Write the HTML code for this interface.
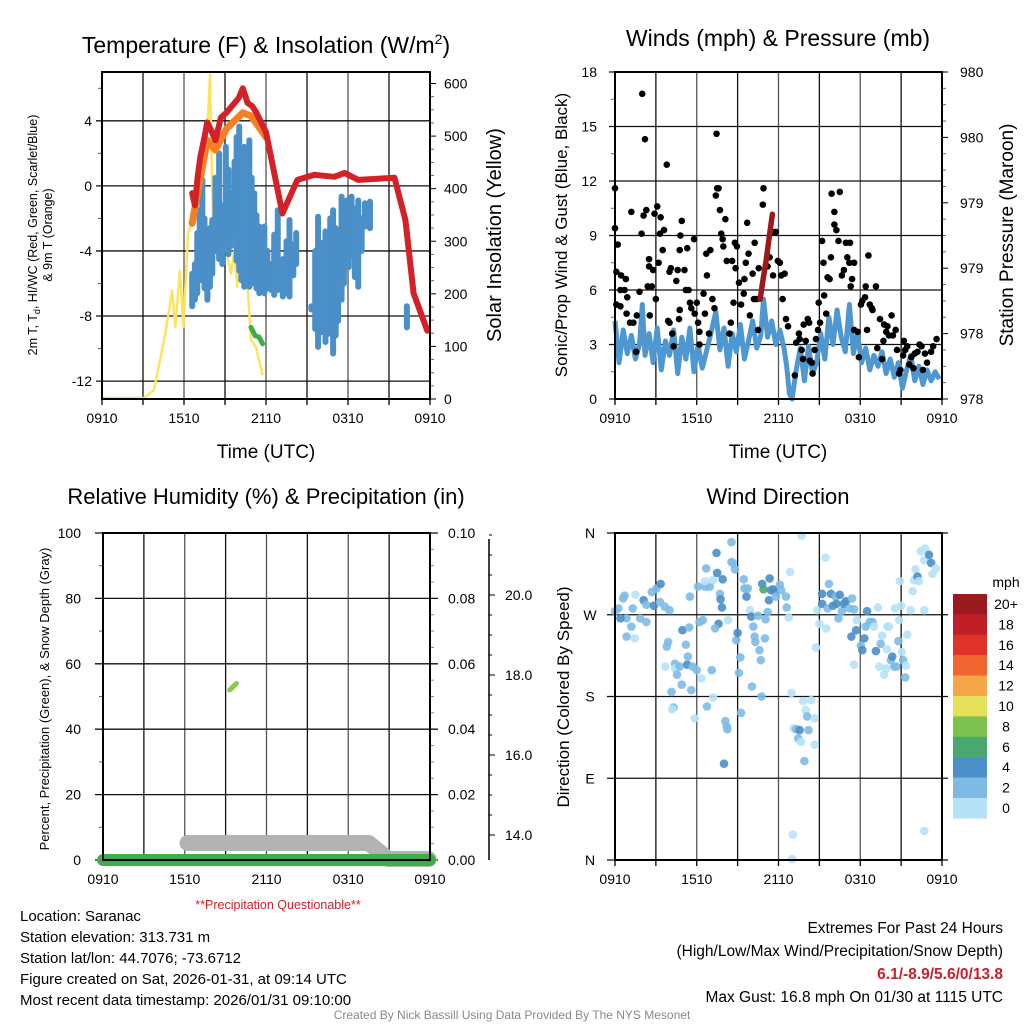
<!DOCTYPE html>
<html><head><meta charset="utf-8"><style>
html,body{margin:0;padding:0;background:#fff;}
svg{display:block;font-family:"Liberation Sans",Arial,sans-serif;}
</style></head><body>
<svg id="s" width="1024" height="1024" viewBox="0 0 1024 1024" xmlns="http://www.w3.org/2000/svg">
<rect width="1024" height="1024" fill="#fff"/>
<g id="g"></g>
</svg>
<script>
// ---------- DATA (hours since 0910 UTC) ----------
const timeTicks = ["0910","1510","2110","0310","0910"];
// Temperature panel
const tempT = [6.6,6.8,7.0,7.2,7.5,7.7,8.0,8.3,8.7,9.1,9.4,9.7,10.0,10.3,10.65,11.0,11.3,12.0,13.2,14.3,15.55,17.0,17.75,18.75,21.4,22.2,22.8,23.8];
const tempV = [-0.45,-1.2,0.57,1.8,3.0,3.9,3.4,2.8,4.2,4.5,4.8,5.1,5.4,6.0,5.1,4.9,4.5,3.3,-1.7,0.37,0.68,0.56,0.8,0.37,0.5,-2.1,-6.6,-8.9];
const t9T = [6.6,7.2,7.7,8.3,9.1,9.7,10.3,10.9,11.5,12.0];
const t9V = [-2.3,0.5,2.8,2.2,3.5,4.0,4.5,4.3,3.6,3.0];
const tdT = [6.6,6.8,6.97,7.15,7.34,7.5,7.71,7.9,8.07,8.3,8.57,8.8,9.06,9.25,9.43,9.7,9.85,10.04,10.2,10.41,10.6,10.78,10.95,11.14,11.3,11.51,11.7,11.88,12.1,12.37,12.6,12.86,13.23,13.5,13.72,14.0,14.21,15.32,15.6,15.81,16.0,16.18,16.35,16.54,16.7,16.91,17.1,17.28,17.53,17.7,17.89,18.05,18.26,18.5,18.75,19.0,19.24,19.61,22.31];
const tdHigh = [-5.4,-4.8,-2.9,-1.5,0.37,-2.0,-3.3,-2.6,-2.1,0.5,2.0,-1.2,2.4,1.0,-0.45,1.5,3.0,3.65,2.0,2.4,1.8,2.8,0.5,-0.45,-1.8,-2.5,-3.5,-2.5,-4.0,-4.8,-3.0,-1.5,-4.5,-3.4,-2.1,-3.6,-2.9,-7.4,-4.0,-1.9,-3.5,-3.9,-2.8,-3.7,-2.0,-1.5,-2.6,-3.1,-0.66,-1.8,-0.9,-2.2,-0.66,-1.4,-0.9,-2.0,-1.07,-0.97,-7.4];
const tdLow = [-7.4,-7.0,-6.6,-5.8,-4.5,-6.3,-7.0,-6.2,-5.4,-4.0,-4.5,-4.8,-3.5,-4.2,-3.7,-3.0,-4.6,-5.2,-5.8,-6.2,-5.9,-6.2,-6.0,-5.8,-6.3,-6.6,-6.5,-6.6,-6.3,-6.4,-6.7,-6.4,-6.8,-6.6,-6.8,-5.5,-4.8,-7.6,-8.8,-9.9,-9.0,-8.7,-9.6,-9.1,-8.5,-10.3,-9.2,-8.3,-7.0,-6.0,-3.7,-5.0,-4.3,-5.6,-6.2,-4.0,-2.5,-2.6,-8.7];
const hiT = [10.9,11.2,11.5,11.75];
const hiV = [-8.7,-9.2,-9.3,-9.7];
const solT = [0,3.05,3.8,4.15,4.64,5.13,5.37,5.7,5.95,6.29,6.6,7.1,7.46,7.71,7.9,8.07,8.2,8.44,8.61,9.06,9.43,9.67,9.9,10.29,10.53,10.9,11.26,11.75];
const solV = [2,2,17,61,125,206,137,244,137,314,339,402,453,516,617,390,282,339,263,288,238,282,213,409,263,112,99,45];
// Wind panel
const windT = [0,0.3,0.6,0.9,1.2,1.5,1.8,2.0,2.2,2.5,2.8,3.1,3.4,3.7,4.0,4.3,4.6,4.9,5.2,5.5,5.8,6.1,6.4,6.7,7.0,7.4,7.7,8.0,8.3,8.6,8.9,9.2,9.5,9.8,10.1,10.4,10.7,10.9,11.2,11.5,11.8,12.1,12.4,12.6,12.8,13.0,13.3,13.6,13.9,14.2,14.5,14.8,15.1,15.4,15.7,16.0,16.3,16.6,16.9,17.2,17.5,17.8,18.1,18.4,18.7,19.0,19.3,19.6,19.9,20.2,20.5,20.8,21.1,21.4,21.7,22.0,22.3,22.6,22.9,23.2,23.5,23.8];
const windV = [4.3,2.0,3.8,2.5,3.5,2.2,3.0,5.2,2.4,3.6,2.0,3.9,1.6,3.2,2.4,3.8,1.4,3.4,2.2,3.9,1.5,3.0,1.7,2.6,3.5,4.8,2.7,3.9,1.8,3.6,2.6,4.1,2.2,3.2,4.3,2.8,3.5,5.5,3.4,4.3,3.0,3.8,2.8,1.8,0.3,0.0,1.6,2.8,1.0,2.9,1.4,2.0,3.6,2.2,4.5,3.0,4.9,3.4,2.6,5.2,2.5,3.6,2.0,2.8,1.6,2.4,1.8,2.6,1.4,2.2,1.2,2.0,0.6,1.6,2.4,1.0,1.8,0.8,1.6,1.0,1.5,1.1];
const gustT = [0,0.0,0.2,0.1,0.45,0.8,0.4,0.7,0.1,0.4,0.9,0.85,1.1,1.35,1.2,1.55,1.6,1.8,1.95,2.1,2.3,2.0,2.2,2.5,2.5,2.4,2.7,2.55,2.8,2.9,3.0,3.1,3.2,3.35,3.3,3.5,3.6,3.8,3.9,4.0,4.0,4.1,4.2,4.3,4.5,4.6,4.7,4.75,4.9,4.8,4.75,5.1,5.3,5.2,5.4,5.5,5.6,5.8,5.85,6.0,6.1,6.2,6.2,6.5,6.6,6.7,6.75,6.9,7.0,7.15,7.3,7.4,7.5,7.45,7.6,7.7,7.8,7.9,7.95,8.1,8.2,8.4,8.5,8.6,8.7,8.8,8.85,8.95,9.1,9.25,9.45,9.5,9.6,9.7,9.8,9.9,10.1,10.2,10.25,10.4,10.5,10.55,10.85,10.9,11.2,11.35,11.55,11.6,11.8,11.95,12.1,12.2,12.3,12.45,12.55,12.7,13.2,13.3,13.5,13.55,13.7,13.8,13.85,14.0,14.15,14.25,14.3,14.45,14.5,14.65,14.75,14.9,14.95,15.05,15.2,15.3,15.35,15.5,15.6,15.75,15.85,15.9,16.1,16.1,16.25,16.4,16.5,16.65,16.8,16.95,17.05,17.2,17.25,17.3,17.4,17.55,17.55,17.8,17.9,18.05,18.15,18.35,18.4,18.5,18.6,18.7,18.85,18.9,19.15,19.25,19.45,19.6,19.7,19.75,19.9,20.0,20.1,20.3,20.4,20.6,20.7,20.85,20.95,21.15,21.2,21.3,21.45,21.6,21.75,21.9,22.0,22.2,22.35,22.5,22.6,22.75,22.9,23.2,23.35,23.6];
const gustV = [11.6,9.4,8.5,7.0,6.8,6.6,6.0,6.0,5.2,5.1,5.6,4.7,4.2,4.2,10.3,2.6,4.6,5.9,9.1,10.1,10.4,16.8,14.3,7.7,7.3,6.2,6.2,4.6,7.1,10.2,5.5,10.6,7.5,10.0,9.1,8.2,9.3,12.9,4.3,4.2,7.0,7.2,3.6,2.9,6.5,7.1,4.4,4.9,9.8,9.0,8.2,7.1,8.3,6.0,6.0,5.3,5.0,8.8,4.7,5.3,4.2,3.0,3.7,5.8,4.7,8.0,6.8,3.6,8.2,5.5,5.0,11.2,11.6,14.6,11.6,10.4,9.1,8.8,8.4,9.9,7.6,3.6,4.2,7.6,5.3,8.6,7.2,8.4,6.4,5.2,5.8,6.6,7.5,9.7,8.0,4.6,6.9,5.5,8.6,5.5,3.8,7.2,10.7,11.6,7.3,7.8,9.2,6.8,9.2,7.6,7.5,6.8,5.5,6.9,4.4,4.0,1.3,3.1,3.6,3.3,2.7,2.2,4.1,3.2,4.4,4.2,2.1,2.0,1.4,2.7,3.3,3.8,5.3,4.2,8.7,7.5,5.7,4.7,6.7,6.6,7.8,11.3,10.3,9.6,9.3,8.7,11.4,6.8,7.1,8.6,7.8,7.5,8.6,6.2,6.6,7.5,3.8,3.7,2.3,5.2,5.4,5.6,6.2,3.8,7.9,5.2,5.0,4.9,6.2,2.8,4.4,2.2,3.2,4.1,3.7,4.0,3.5,4.6,3.5,3.8,2.7,1.4,1.6,2.4,3.2,2.7,2.9,1.9,2.3,1.7,2.5,2.6,3.0,2.9,1.6,2.5,2.0,2.6,2.9,3.3];
const presT = [10.65,10.85,11.1,11.3,11.55];
const presV = [978.61,978.72,978.85,978.98,979.13];
const presTicks = ["978","978","979","979","980","980"];
// RH / precip / snow panel
const precipT = [0,24];
const precipV = [0,0];
const rhT = [9.3,9.55,9.8];
const rhV = [52,53,54];
const snowT = [6.2,19.5,20.95,23.9];
const snowV = [13.8,13.8,13.4,13.4];
// Direction panel
const dirT = [0,0.25,0.6,0.7,1.5,0.85,1.2,0.85,1.45,0.4,1.3,1.85,2.1,2.3,2.3,2.7,2.85,3.05,3.35,3.3,3.65,4.0,3.8,3.9,3.7,4.4,4.4,4.55,4.75,4.9,4.95,5.2,5.3,5.35,5.45,5.5,5.6,5.7,5.85,6.0,6.1,6.2,6.35,6.45,4.15,4.3,4.2,6.6,6.7,6.95,6.6,7.2,7.1,6.75,7.2,7.45,7.5,7.7,7.75,7.85,7.6,7.35,7.9,8.1,8.2,8.25,8.0,8.3,8.55,8.55,8.65,8.8,8.9,9.0,9.2,9.1,9.25,9.45,9.65,9.5,9.75,9.9,10.0,10.15,10.25,10.3,10.5,10.6,10.7,11.0,11.05,10.8,10.9,11.35,11.3,11.45,11.6,11.7,11.8,12.1,12.2,11.2,10.05,10.75,12.55,12.6,12.75,12.85,12.95,13.1,13.3,13.55,13.45,13.65,13.8,14.0,14.1,14.2,14.4,14.65,14.65,13.9,13.7,13.05,13.0,14.75,14.85,15.0,15.2,15.2,15.45,15.5,15.6,15.7,15.85,16.0,16.2,16.25,16.4,16.5,16.65,16.8,16.95,17.2,17.4,17.55,17.75,17.7,17.35,17.55,18.05,18.15,18.3,18.4,18.5,18.7,18.9,19.0,19.15,19.3,19.4,19.5,19.6,19.75,19.9,19.95,20.0,20.1,20.25,20.35,20.5,20.65,20.8,20.85,20.55,21.0,21.05,21.15,21.3,21.35,21.45,21.7,21.85,21.95,22.05,22.2,22.3,22.45,22.7,22.75,23.05,23.2,23.55,23.3,22.7,20.9,22.7];
const dirV = [274,277,288,291,292,266,257,246,244,266,277,266,286,262,281,295,280,299,304,284,279,275,235,240,213,216,211,204,213,193,253,237,215,224,256,290,187,213,156,209,301,262,200,264,185,168,166,301,321,301,307,308,209,169,179,338,316,293,287,278,260,255,309,153,147,144,106,264,350,328,327,320,242,250,223,206,162,309,290,299,299,275,268,257,246,240,269,231,220,244,265,304,298,310,286,297,298,296,290,303,297,273,191,180,290,278,267,317,184,145,144,143,134,130,175,165,158,143,176,156,127,109,357,28,1,234,275,260,293,282,333,255,277,304,293,280,290,282,266,292,274,282,285,277,288,276,264,253,246,215,236,231,244,257,274,262,262,257,230,278,213,238,247,204,211,232,257,257,220,224,213,213,241,264,277,280,229,220,201,214,248,275,296,308,320,312,307,340,330,343,336,327,321,315,32,307,275];
const dirS = [3,3,3,3,1,3,3,3,1,5,3,3,5,3,3,3,5,3,5,3,3,3,3,3,1,3,1,3,3,3,5,3,5,3,3,3,3,3,1,3,3,3,1,3,3,3,1,3,3,3,1,1,3,3,1,5,5,3,5,5,5,3,5,3,3,3,5,1,3,3,3,3,3,5,3,3,3,3,5,3,3,1,5,3,3,3,3,3,3,3,3,5,7,5,5,5,5,5,3,3,3,3,3,3,3,3,1,1,1,1,3,5,3,1,1,1,3,3,1,1,1,3,1,1,1,1,1,1,5,5,1,1,3,3,5,5,3,5,3,5,3,5,5,3,3,3,1,5,5,1,3,5,5,3,5,3,3,1,5,1,1,3,1,1,1,1,1,1,3,5,3,3,3,1,1,1,1,3,3,1,1,1,1,1,1,5,1,1,1,1,5,5,1,1,1,1,1,1];
const cbLabels = ["20+","18","16","14","12","10","8","6","4","2","0"];
const cbColors = ["#9a1a1d","#c11f26","#df3229","#f06530","#f7a647","#e6e15a","#7dc24e","#49a770","#4a8fc8","#7dbbe5","#b6e2f7"];

// ---------- helpers ----------
const NS="http://www.w3.org/2000/svg";
const G=document.getElementById('g');
function mk(tag,attrs,parent){const e=document.createElementNS(NS,tag);for(const k in attrs)e.setAttribute(k,attrs[k]);(parent||G).appendChild(e);return e;}
function txt(x,y,s,size,anchor,parent,extra){const e=mk('text',Object.assign({x:x,y:y,'font-size':size,'text-anchor':anchor||'middle',fill:'#000'},extra||{}),parent);e.textContent=s;return e;}
function lin(d0,d1,r0,r1){return v=>r0+(v-d0)/(d1-d0)*(r1-r0);}
function pathOf(xs,ys,fx,fy){return xs.map((t,i)=>(i?'L':'M')+fx(t).toFixed(1)+','+fy(ys[i]).toFixed(1)).join('');}

function frame(P,name){
  const g=mk('g',{});
  
  
  const fx=lin(0,24,P.x0,P.x1);
  for(let h=0;h<=24;h+=3){const x=fx(h);
    mk('line',{x1:x,y1:P.y0,x2:x,y2:P.y1,stroke:(h%6==0)?'#555':'#111','stroke-width':1.3},g);
    mk('line',{x1:x,y1:P.y1,x2:x,y2:P.y1+6,stroke:'#000','stroke-width':1.3},g);}
  timeTicks.forEach((s,i)=>{const t=txt(fx(i*6),P.y1+24,s,14,'middle',g);
    });
  return {g,fx};
}

// ===== Panel 1: Temperature =====
(function(){
  const P={x0:102,x1:430,y0:72,y1:399};
  const {g,fx}=frame(P,'temperature-panel');
  const fy=lin(-13.1,7.0,P.y1,P.y0);
  const fs=lin(0,620,P.y1,P.y0+1);
  [-12,-8,-4,0,4].forEach(v=>{const y=fy(v);
    mk('line',{x1:P.x0-6,y1:y,x2:P.x1,y2:y,stroke:'#111','stroke-width':1.3},g);
    const t=txt(P.x0-10,y+5,String(v),14,'end',g);});
  [-10,-6,-2,2,6].forEach(v=>mk('line',{x1:P.x0-4,y1:fy(v),x2:P.x0,y2:fy(v),stroke:'#555'},g));
  for(let w=0;w<=600;w+=25){const y=fs(w);mk('line',{x1:P.x1,y1:y,x2:P.x1+(w%100==0?6:4),y2:y,stroke:w%100==0?'#000':'#666'},g);
    if(w%100==0){const t=txt(P.x1+14,y+5,String(w),14,'start',g);}}
  let e=mk('path',{d:pathOf(solT,solV,fx,fs),fill:'none',stroke:'#fde35a','stroke-width':2.4,'stroke-linejoin':'round'},g);
  
  const bg=mk('g',{},g);
  tdT.forEach((t,i)=>{const b=mk('line',{x1:fx(t),x2:fx(t),y1:fy(tdHigh[i]),y2:fy(tdLow[i]),stroke:'#4a8fc8','stroke-width':6,'stroke-linecap':'round'},bg);
    });
  e=mk('path',{d:pathOf(t9T,t9V,fx,fy),fill:'none',stroke:'#f47f24','stroke-width':7,'stroke-linejoin':'round','stroke-linecap':'round'},g);
  
  e=mk('path',{d:pathOf(tempT,tempV,fx,fy),fill:'none',stroke:'#d42027','stroke-width':6,'stroke-linejoin':'round','stroke-linecap':'round'},g);
  
  e=mk('path',{d:pathOf(hiT,hiV,fx,fy),fill:'none',stroke:'#3fae49','stroke-width':5,'stroke-linecap':'round'},g);
  
  mk('rect',{x:P.x0,y:P.y0,width:P.x1-P.x0,height:P.y1-P.y0,fill:'none',stroke:'#000','stroke-width':2},g);
  let t=mk('text',{x:266,y:53,'font-size':23,'text-anchor':'middle'},g);
  t.innerHTML='Temperature (F) &amp; Insolation (W/m<tspan dy="-9" font-size="14">2</tspan><tspan dy="9">)</tspan>';
  
  t=txt(266,458,'Time (UTC)',19,'middle',g);
  t=mk('text',{x:0,y:0,'font-size':12.5,'text-anchor':'middle',transform:'translate(37,235) rotate(-90)'},g);
  t.innerHTML='2m T, T<tspan dy="3" font-size="9">d</tspan><tspan dy="-3">, HI/WC (Red, Green, Scarlet/Blue)</tspan>';
  
  t=mk('text',{x:0,y:0,'font-size':12.5,'text-anchor':'middle',transform:'translate(52,235) rotate(-90)'},g);t.textContent='& 9m T (Orange)';
  
  t=mk('text',{x:0,y:0,'font-size':20,'text-anchor':'middle',transform:'translate(501,235) rotate(-90)'},g);t.textContent='Solar Insolation (Yellow)';
  
})();

// ===== Panel 2: Winds =====
(function(){
  const P={x0:615,x1:942,y0:72,y1:399};
  const {g,fx}=frame(P,'winds-panel');
  const fy=lin(0,18,P.y1,P.y0);
  const fp=lin(978,980,P.y1,P.y0);
  for(let v=0;v<=18;v+=3){const y=fy(v);
    mk('line',{x1:P.x0-6,y1:y,x2:P.x1,y2:y,stroke:'#111','stroke-width':1.3},g);
    if(v<18)mk('line',{x1:P.x0-4,y1:fy(v+1.5),x2:P.x0,y2:fy(v+1.5),stroke:'#666'},g);
    const t=txt(P.x0-18,y+5,String(v),14,'end',g);}
  for(let i=0;i<=20;i++){const y=fp(978+i*0.1);mk('line',{x1:P.x1,y1:y,x2:P.x1+(i%4==0?6:4),y2:y,stroke:i%4==0?'#000':'#666'},g);}
  presTicks.forEach((s,i)=>{const t=txt(P.x1+18,fp(978+i*0.4)+5,s,14,'start',g);});
  let e=mk('path',{d:pathOf(windT,windV,fx,fy),fill:'none',stroke:'#4f97d0','stroke-width':5,'stroke-linejoin':'round'},g);
  
  const dg=mk('g',{},g);
  gustT.forEach((t,i)=>{const c=mk('circle',{cx:fx(t),cy:fy(gustV[i]),r:3.3,fill:'#000'},dg);
    });
  e=mk('path',{d:pathOf(presT,presV,fx,fp),fill:'none',stroke:'#9c1a1c','stroke-width':5.5,'stroke-linecap':'round'},g);
  
  mk('rect',{x:P.x0,y:P.y0,width:P.x1-P.x0,height:P.y1-P.y0,fill:'none',stroke:'#000','stroke-width':2},g);
  let t=txt(778,46,'Winds (mph) & Pressure (mb)',23,'middle',g);
  t=txt(778,458,'Time (UTC)',19,'middle',g);
  t=mk('text',{x:0,y:0,'font-size':17,'text-anchor':'middle',transform:'translate(567,235) rotate(-90)'},g);t.textContent='Sonic/Prop Wind & Gust (Blue, Black)';
  
  t=mk('text',{x:0,y:0,'font-size':19,'text-anchor':'middle',transform:'translate(1013,235) rotate(-90)'},g);t.textContent='Station Pressure (Maroon)';
  
})();

// ===== Panel 3: RH / Precip =====
(function(){
  const P={x0:103,x1:430,y0:533,y1:860};
  const {g,fx}=frame(P,'humidity-precip-panel');
  const fy=lin(0,100,P.y1,P.y0);
  const fq=lin(0,0.1,P.y1,P.y0);
  const fsn=lin(13.375,21.55,P.y1,P.y0);
  for(let v=0;v<=100;v+=20){const y=fy(v);
    mk('line',{x1:P.x0-8,y1:y,x2:P.x1+8,y2:y,stroke:'#111','stroke-width':1.3},g);
    if(v<100)mk('line',{x1:P.x0-4,y1:fy(v+10),x2:P.x0,y2:fy(v+10),stroke:'#666'},g);
    let t=txt(P.x0-22,y+5,String(v),14,'end',g);
    t=txt(P.x1+18,y+5,(v/1000).toFixed(2),14,'start',g);}
  for(let i=1;i<20;i++){if(i%4)mk('line',{x1:P.x1,y1:fq(i*0.005),x2:P.x1+4,y2:fq(i*0.005),stroke:'#888'},g);}
  mk('line',{x1:489,y1:P.y0+6,x2:489,y2:P.y1,stroke:'#000','stroke-width':1.5},g);
  for(let v=14;v<=21.5;v+=0.5){const y=fsn(v);const maj=(v%2==0);mk('line',{x1:489,y1:y,x2:489+(maj?6:3),y2:y,stroke:'#000'},g);
    if(maj){const t=txt(505,y+5,v.toFixed(1),14,'start',g);}}
  let e=mk('path',{d:pathOf(snowT,snowV,fx,fsn),fill:'none',stroke:'#b3b3b3','stroke-width':16,'stroke-linejoin':'round','stroke-linecap':'round'},g);
  
  e=mk('path',{d:pathOf(precipT,precipV,fx,fq),fill:'none',stroke:'#3fae49','stroke-width':12,'stroke-linecap':'round'},g);
  
  e=mk('path',{d:pathOf(rhT,rhV,fx,fy),fill:'none',stroke:'#8cc84b','stroke-width':5,'stroke-linecap':'round'},g);
  
  mk('line',{x1:P.x0,y1:P.y1,x2:P.x1,y2:P.y1,stroke:'#000','stroke-width':2},g);
  mk('rect',{x:P.x0,y:P.y0,width:P.x1-P.x0,height:P.y1-P.y0,fill:'none',stroke:'#000','stroke-width':2},g);
  let t=txt(266,504,'Relative Humidity (%) & Precipitation (in)',22,'middle',g);
  t=txt(278,909,'**Precipitation Questionable**',12.5,'middle',g,{fill:'#d42027'});
  t=mk('text',{x:0,y:0,'font-size':13,'text-anchor':'middle',transform:'translate(49,699) rotate(-90)'},g);t.textContent='Percent, Precipitation (Green), & Snow Depth (Gray)';
  
})();

// ===== Panel 4: Wind direction =====
(function(){
  const P={x0:615,x1:942,y0:533,y1:860};
  const {g,fx}=frame(P,'wind-direction-panel');
  const fy=lin(0,360,P.y1,P.y0);
  ["N","E","S","W","N"].forEach((s,i)=>{const y=fy(i*90);
    mk('line',{x1:P.x0-8,y1:y,x2:P.x1+6,y2:y,stroke:'#111','stroke-width':1.3},g);
    const t=txt(P.x0-25,y+5,s,14,'middle',g);});
  const dg=mk('g',{},g);
  dirT.forEach((t,i)=>{const k=Math.min(10,Math.floor(dirS[i]/2));
    const c=mk('circle',{cx:fx(t),cy:fy(dirV[i]),r:4.3,fill:cbColors[10-k],'fill-opacity':0.9},dg);
    });
  mk('rect',{x:P.x0,y:P.y0,width:P.x1-P.x0,height:P.y1-P.y0,fill:'none',stroke:'#000','stroke-width':2},g);
  const cb=mk('g',{},g);
  cbColors.forEach((c,i)=>{mk('rect',{x:953,y:594+i*20.4,width:34,height:20.6,fill:c},cb);
    const t=txt(1006,609+i*20.4,cbLabels[i],14,'middle',cb);});
  let t=txt(1006,587,'mph',14,'middle',cb);
  t=txt(778,504,'Wind Direction',22,'middle',g);
  t=mk('text',{x:0,y:0,'font-size':17,'text-anchor':'middle',transform:'translate(569,697) rotate(-90)'},g);t.textContent='Direction (Colored By Speed)';
  
})();
</script>
<div style="position:absolute;left:0;top:0;width:1024px;height:1024px;pointer-events:none;font-family:'Liberation Sans',Arial,sans-serif;">
  <div style="position:absolute;left:20px;top:906px;font-size:15px;line-height:21px;color:#000;">
    <div>Location: Saranac</div>
    <div>Station elevation: 313.731 m</div>
    <div>Station lat/lon: 44.7076; -73.6712</div>
    <div>Figure created on Sat, 2026-01-31, at 09:14 UTC</div>
    <div>Most recent data timestamp: 2026/01/31 09:10:00</div>
  </div>
  <div style="position:absolute;right:21px;top:917px;text-align:right;font-size:15.5px;line-height:23px;color:#000;">
    <div>Extremes For Past 24 Hours</div>
    <div>(High/Low/Max Wind/Precipitation/Snow Depth)</div>
    <div style="color:#c8202a;font-weight:bold;">6.1/-8.9/5.6/0/13.8</div>
    <div>Max Gust: 16.8 mph On 01/30 at 1115 UTC</div>
  </div>
  <div style="position:absolute;left:0;width:1024px;top:1008px;text-align:center;font-size:12px;color:#888;">Created By Nick Bassill Using Data Provided By The NYS Mesonet</div>
</div>
</body></html>
